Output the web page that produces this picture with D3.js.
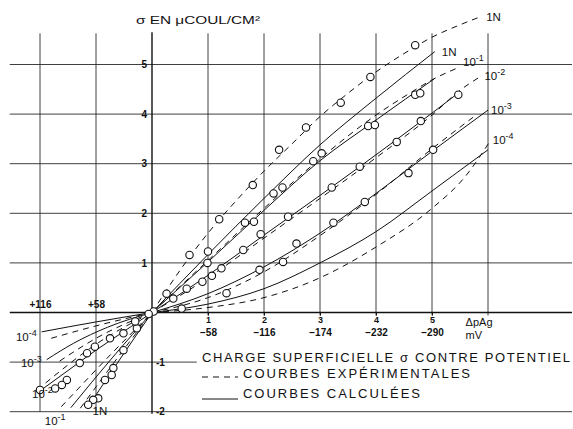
<!DOCTYPE html>
<html lang="fr">
<head>
<meta charset="utf-8"/>
<title>Charge superficielle contre potentiel</title>
<script src="https://d3js.org/d3.v7.min.js"></script>
<style>
  html, body { margin: 0; padding: 0; background: #fff; }
  svg { display: block; font-family: "Liberation Sans", Arial, sans-serif; }
  .grid line { stroke: #2a2a2a; stroke-width: 0.9; }
  .curve { fill: none; stroke: #111; stroke-width: 1; }
  .curve.exp { stroke-dasharray: 6 5; }
  .obs { fill: #fff; stroke: #111; stroke-width: 1.1; }
  .lbl { fill: #111; }
</style>
</head>
<body>
<div id="chart"></div>
<script>
// grid / ticks
const xGridNeg = [-2, -1];
const xGridPos = [1, 2, 3, 4, 5, 6];
const yGridFull = [5, 4, 3, 2, 1, -2];
const yTicksPos = [5, 4, 3, 2, 1];
const yTicksNeg = [-1, -2];
const xTicksPAg = [1, 2, 3, 4, 5];
const mvLabels = ["−58", "−116", "−174", "−232", "−290"];
const xTicksLeft = [-2, -1];
const mvLabelsLeft = ["+116", "+58"];
const concNames = ["1N", "10^-1", "10^-2", "10^-3", "10^-4"];

// courbes calculées (trait plein) et expérimentales (tirets), [ΔpAg, σ]
const calc1N  = [[-1.15,-1.92],[-0.5,-0.82],[0,0],[1,1.17],[2,2.3],[3,3.38],[4,4.32],[5.05,5.26]];
const exp1N   = [[-1.28,-1.93],[-0.5,-0.74],[0,0],[0.5,0.85],[1,1.6],[1.5,2.25],[2,2.85],[2.5,3.4],[3,3.95],[3.5,4.42],[4,4.85],[4.5,5.22],[5,5.55],[5.5,5.8],[5.86,5.96]];
const calc1e1 = [[-1.45,-1.92],[-0.7,-0.9],[0,0],[1,1.02],[2,2.06],[3,3.06],[4,3.88],[5.05,4.72]];
const exp1e1  = [[-1.62,-1.9],[-0.8,-0.92],[0,0],[1,1.05],[2,2.1],[3,3.1],[4,3.98],[4.6,4.42],[5.05,4.72],[5.5,4.95]];
const calc1e2 = [[-2,-1.58],[-1.5,-1.17],[-1,-0.76],[-0.5,-0.38],[0,0],[1,0.75],[2,1.56],[3,2.36],[4,3.18],[5,4.02],[5.5,4.45]];
const exp1e2  = [[-1.9,-1.42],[-1,-0.64],[0,0],[1,0.7],[2,1.5],[3,2.3],[4,3.12],[5,3.98],[5.5,4.48],[5.9,4.78]];
const calc1e3 = [[-1.88,-0.95],[-1.4,-0.62],[-0.8,-0.3],[0,0],[1,0.38],[2,0.92],[3,1.6],[4,2.4],[5,3.25],[6,4.08]];
const exp1e3  = [[-1.65,-0.98],[-1,-0.52],[0,0],[1,0.3],[2,0.82],[3,1.55],[4,2.38],[5,3.3],[5.75,3.95]];
const calc1e4 = [[-1.97,-0.39],[-1,-0.19],[0,0],[1,0.17],[2,0.48],[3,1.0],[4,1.63],[5,2.45],[6,3.28]];
const exp1e4  = [[-1.8,-0.52],[-1,-0.27],[0,0],[1,0.1],[2,0.3],[3,0.7],[4,1.32],[5,2.1],[5.6,2.75],[6.05,3.48]];

// points expérimentaux
const obs1N  = [[0.67,1.16],[1.2,1.88],[1.8,2.57],[2.27,3.28],[2.75,3.73],[3.37,4.23],[3.9,4.75],[4.7,5.39],
                [-0.27,-0.32],[-0.51,-0.76],[-0.69,-1.12],[-0.72,-1.26],[-0.84,-1.36],[-0.96,-1.73],[-1.05,-1.76],[-1.14,-1.86]];
const obs1e1 = [[0.26,0.38],[0.99,1.0],[1.0,1.23],[1.66,1.81],[1.82,1.83],[2.17,2.4],[2.33,2.52],[2.88,3.05],[3.03,3.21],[3.86,3.76],[3.98,3.78],[4.7,4.39],[4.79,4.42]];
const obs1e2 = [[0.38,0.28],[0.62,0.48],[0.9,0.62],[1.07,0.74],[1.24,0.89],[1.63,1.26],[1.94,1.58],[2.43,1.93],[3.21,2.52],[3.71,2.94],[4.37,3.44],[4.8,3.86],[5.47,4.39],
                [-0.3,-0.18],[-0.51,-0.42],[-0.75,-0.52],[-1.02,-0.69],[-1.16,-0.82],[-1.29,-1.02],[-1.52,-1.36],[-1.61,-1.46],[-1.73,-1.53],[-2,-1.56]];
const obs1e3 = [[1.33,0.39],[1.92,0.86],[2.34,1.02],[2.58,1.39],[3.24,1.81],[3.8,2.23],[4.58,2.81],[5.02,3.28]];
const obs1e4 = [[0.03,0.02],[0.53,0.08],[-0.06,-0.03]];

const width = 573, height = 429;

const svg = d3.select('#chart').append('svg')
    .attr('width', width).attr('height', height);

const x = d3.scaleLinear().domain([-2, 6]).range([40, 488]);
const y = d3.scaleLinear().domain([-2, 5]).range([411.7, 64.5]);

const xLeft = -2.54, xRight = 7.5, yTop = 5.63;

// grille
const grid = svg.append('g').attr('class', 'grid');
grid.selectAll('.hl').data(yGridFull).enter().append('line')
    .attr('x1', x(xLeft)).attr('x2', x(xRight))
    .attr('y1', d => y(d)).attr('y2', d => y(d));
grid.append('line') // -1 s'arrête avant la légende
    .attr('x1', x(xLeft)).attr('x2', x(0.8))
    .attr('y1', y(-1)).attr('y2', y(-1));
grid.selectAll('.vn').data(xGridNeg).enter().append('line')
    .attr('x1', d => x(d)).attr('x2', d => x(d))
    .attr('y1', y(yTop)).attr('y2', y(-2));
grid.selectAll('.vp').data(xGridPos).enter().append('line')
    .attr('x1', d => x(d)).attr('x2', d => x(d))
    .attr('y1', y(yTop)).attr('y2', y(0) + 3);

// axes principaux
svg.append('line').attr('x1', x(xLeft)).attr('x2', x(xRight))
    .attr('y1', y(0)).attr('y2', y(0)).attr('stroke', '#111').attr('stroke-width', 1.4);
svg.append('line').attr('x1', x(0)).attr('x2', x(0))
    .attr('y1', y(yTop) - 1).attr('y2', y(-2) + 2).attr('stroke', '#111').attr('stroke-width', 1.4);

// graduations
function styleAxis(g, size) {
    g.select('.domain').remove();
    g.selectAll('line').attr('stroke', '#111');
    g.selectAll('text').attr('font-size', size).attr('fill', '#111').attr('font-weight', 'bold');
}
svg.append('g').attr('transform', `translate(0,${y(0)})`)
    .call(d3.axisBottom(x).tickValues(xTicksPAg).tickFormat(d3.format('d')).tickSize(3).tickPadding(1))
    .call(g => styleAxis(g, 9));
svg.append('g').attr('transform', `translate(0,${y(0)})`)
    .call(d3.axisBottom(x).tickValues(xTicksPAg).tickFormat((d, i) => mvLabels[i]).tickSize(0).tickPadding(16))
    .call(g => styleAxis(g, 10));
svg.append('g').attr('transform', `translate(0,${y(0)})`)
    .call(d3.axisTop(x).tickValues(xTicksLeft).tickFormat((d, i) => mvLabelsLeft[i]).tickSize(0).tickPadding(5))
    .call(g => styleAxis(g, 10));
svg.append('g').attr('transform', `translate(${x(0)},0)`)
    .call(d3.axisLeft(y).tickValues(yTicksPos).tickFormat(d3.format('d')).tickSize(0).tickPadding(5))
    .call(g => styleAxis(g, 10));
svg.append('g').attr('transform', `translate(${x(0)},0)`)
    .call(d3.axisRight(y).tickValues(yTicksNeg).tickFormat(d => '-' + Math.abs(d)).tickSize(0).tickPadding(4))
    .call(g => styleAxis(g, 10));

// courbes
const line = d3.line().x(d => x(d[0])).y(d => y(d[1])).curve(d3.curveMonotoneX);
const curves = [
    [calc1N, 'calc'], [exp1N, 'exp'], [calc1e1, 'calc'], [exp1e1, 'exp'],
    [calc1e2, 'calc'], [exp1e2, 'exp'], [calc1e3, 'calc'], [exp1e3, 'exp'],
    [calc1e4, 'calc'], [exp1e4, 'exp']
];
curves.forEach(([pts, kind]) => {
    const neg = pts.filter(d => d[0] <= 0);
    const pos = pts.filter(d => d[0] >= 0);
    [neg, pos].forEach(part => {
        if (part.length < 2) return;
        svg.append('path').attr('class', 'curve ' + kind).attr('d', line(part));
    });
});

// points
const allObs = [].concat(obs1N, obs1e1, obs1e2, obs1e3, obs1e4);
svg.selectAll('.obs').data(allObs).enter().append('circle')
    .attr('class', 'obs')
    .attr('cx', d => x(d[0])).attr('cy', d => y(d[1])).attr('r', 3.7);

// étiquettes des concentrations
function addLabel(str, px, py, anchor, size) {
    const t = svg.append('text').attr('class', 'lbl')
        .attr('x', px).attr('y', py).attr('text-anchor', anchor).attr('font-size', size);
    const [base, sup] = str.split('^');
    t.append('tspan').text(base);
    if (sup) t.append('tspan').attr('dy', -5).attr('font-size', size * 0.78).text(sup);
}
const rightLabels = [
    [exp1N, concNames[0], 6, 4], [calc1N, concNames[0], 7, 4], [exp1e1, concNames[1], 3, -1],
    [exp1e2, concNames[2], 2, 5], [calc1e3, concNames[3], 3, 4], [exp1e4, concNames[4], 2, 4]
];
rightLabels.forEach(([pts, name, dx, dy]) => {
    const e = pts[pts.length - 1];
    addLabel(name, x(e[0]) + dx, y(e[1]) + dy, 'start', 11.5);
});
const leftLabels = [
    [calc1e4, concNames[4], -5, 9, 'end'], [calc1e3, concNames[3], -5, 7, 'end'],
    [calc1e2, concNames[2], -8, 7, 'start'], [calc1e1, concNames[1], -26, 17, 'start'],
    [calc1N, concNames[0], 5, 7, 'start']
];
leftLabels.forEach(([pts, name, dx, dy, anchor]) => {
    const s = pts[0];
    addLabel(name, x(s[0]) + dx, y(s[1]) + dy, anchor, 11.5);
});

// titres des axes
svg.append('text').attr('class', 'lbl').attr('x', 136).attr('y', 24)
    .attr('font-size', 11.5).attr('textLength', 124).attr('lengthAdjust', 'spacingAndGlyphs')
    .text('σ EN μCOUL/CM²');
svg.append('text').attr('class', 'lbl').attr('x', x(5.6)).attr('y', y(0) + 13)
    .attr('font-size', 11).text('ΔpAg');
svg.append('text').attr('class', 'lbl').attr('x', x(5.6)).attr('y', y(0) + 26)
    .attr('font-size', 11).text('mV');

// légende
svg.append('text').attr('class', 'lbl').attr('x', 202).attr('y', 362)
    .attr('font-size', 13).attr('textLength', 368).attr('lengthAdjust', 'spacing')
    .text('CHARGE SUPERFICIELLE σ CONTRE POTENTIEL');
svg.append('line').attr('class', 'curve exp').attr('x1', 202).attr('x2', 238).attr('y1', 377).attr('y2', 377);
svg.append('text').attr('class', 'lbl').attr('x', 243).attr('y', 378)
    .attr('font-size', 13).attr('textLength', 227).attr('lengthAdjust', 'spacing')
    .text('COURBES EXPÉRIMENTALES');
svg.append('line').attr('class', 'curve').attr('x1', 202).attr('x2', 238).attr('y1', 399).attr('y2', 399);
svg.append('text').attr('class', 'lbl').attr('x', 243).attr('y', 398)
    .attr('font-size', 13).attr('textLength', 177).attr('lengthAdjust', 'spacing')
    .text('COURBES CALCULÉES');
</script>
</body>
</html>
